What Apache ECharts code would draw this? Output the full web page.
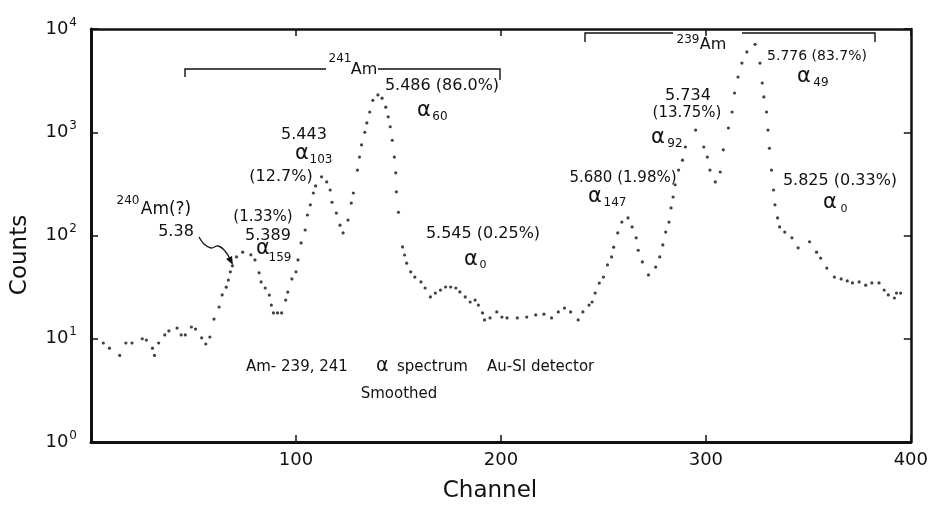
<!DOCTYPE html>
<html><head><meta charset="utf-8">
<script src="https://cdn.jsdelivr.net/npm/echarts@6/dist/echarts.min.js"></script>
<style>html,body{margin:0;padding:0;background:#fff}#c{width:931px;height:505px}</style>
</head><body><div id="c"></div>
<script>
// Channel numbers and smoothed counts
const channels = [6,9,14,17,20,25,27,30,31,33,36,38,42,44,46,49,51,54,56,58,60,62.5,64,66,67,68,69,71,74,78,80,82,83,85,87,88,89,91,93,95,96,98,100,101,102.5,104.5,105.6,107,108.5,109.6,112.5,115,116.7,117.6,119.7,121.5,123,125.4,127,128,130,131,132,133.6,134.6,136,137.5,140,142,143.8,145,146,147,148,148.7,149,150,152,153,154,156,158,161,163,165.6,168,170.5,173,175.5,178,180,182.6,185,187.4,189,191,192,194.7,198,200.5,203,208,212.6,217,221,224.7,228,231,234,237.7,240,243,244.5,246,248,250,252,254,255,257,259,262,264,266,267,269,272,275.5,277.5,279,280.4,282,283,284,285,286.7,288.6,290,295,299,300.7,302,304.6,307,308.5,311,312.8,314,315.7,317.6,320,324,326.4,327.5,328.3,329.6,330.3,331,332,333,333.7,335,336,338.5,342,345,350.6,354,356,359,362.7,366,369,371.5,374.8,378,381,384.5,387,389,392,393,395];
const counts = [9.1,8.1,6.9,9.1,9.1,10,9.7,8.1,6.9,9.1,10.9,11.9,12.7,10.9,10.9,13,12.4,10.2,8.9,10.4,15.5,20.3,26.6,31.6,37,44.5,50.9,62,69,65,58,43.5,35.5,31,26.5,21.2,17.8,17.8,17.8,23.7,28.3,38,44.5,58,84.7,113,158,198,258,302,370,330,276,210,165,126,106,141,206,258,430,575,755,1000,1230,1570,2040,2300,2140,1750,1410,1130,837,575,405,265,168,77.5,64.7,54,44.5,39.6,35.5,31,25.4,27.7,29.6,31.7,31.7,31,28.4,25.4,22.7,23.7,21.2,17.8,15.2,15.9,18.2,16.2,15.9,15.9,16.2,17,17.3,15.9,18.2,19.8,18.2,15.2,18.2,21.2,22.7,27.7,34.6,39.6,51.9,62,77,106,135,148,121,95,72,55.5,41.5,49.4,62,81,108,135,185,236,310,430,537,720,1050,720,575,430,330,412,675,1100,1570,2400,3430,4680,6000,7100,4680,3000,2200,1570,1050,700,430,276,198,148,121,108,95,76,87,69,60.5,48.4,39.6,38,36.3,34.7,35.5,33,34.7,34.7,29.6,26.6,24.8,27.7,27.7];
const xTickValues = [0,100,200,300,400];
const yTickValues = [1,10,100,1000,10000];

const FF = "'DejaVu Sans', sans-serif";
const chart = echarts.init(document.getElementById('c'), null, {renderer:'canvas'});

function txt(x, y, text, size, align, rot) {
  return {type:'text', x:x, y:y, rotation: rot || 0, silent:true,
    style:{text:text, font: size + 'px ' + FF, fill:'#111',
      align: align || 'center', textAlign: align || 'center',
      verticalAlign:'middle', textVerticalAlign:'middle'}};
}
function line(points, w) {
  return {type:'polyline', silent:true, shape:{points:points},
    style:{stroke:'#111', lineWidth: w || 1.4, fill:null}};
}

const graphics = [
  // axis titles
  txt(20, 255, 'Counts', 23, 'center', Math.PI/2),
  txt(490, 491, 'Channel', 23),
  // 240Am(?) 5.38
  txt(128, 201, '240', 12),
  txt(166, 210, 'Am(?)', 17),
  txt(176, 232, '5.38', 16),
  {type:'polyline', silent:true, shape:{points:[[199,237],[204,244],[211,248],[218,246],[225,251],[230,259]], smooth:0.4},
    style:{stroke:'#111', lineWidth:1.3, fill:null}},
  {type:'polygon', silent:true, shape:{points:[[233,265],[226,259],[232,256]]}, style:{fill:'#111'}},
  // alpha 159
  txt(263, 217, '(1.33%)', 15),
  txt(268, 236, '5.389', 16),
  txt(263, 249, 'α', 21),
  txt(280, 258, '159', 12),
  // alpha 103
  txt(304, 135, '5.443', 16),
  txt(302, 154, 'α', 21),
  txt(321, 160, '103', 12),
  txt(281, 177, '(12.7%)', 16),
  // 241Am bracket
  line([[185,77],[185,69],[326,69]]),
  line([[378,69],[500,69],[500,80]]),
  txt(340, 59, '241', 12),
  txt(364, 70, 'Am', 16),
  txt(442, 86, '5.486 (86.0%)', 16),
  txt(424, 111, 'α', 21),
  txt(440, 117, '60', 12),
  txt(483, 234, '5.545 (0.25%)', 16),
  txt(471, 260, 'α', 21),
  txt(483, 265, '0', 11),
  // 239Am bracket
  line([[585,42],[585,33],[673,33]]),
  line([[742,33],[875,33],[875,42]]),
  txt(688, 40, '239', 12),
  txt(713, 45, 'Am', 16),
  txt(817, 56, '5.776 (83.7%)', 14),
  txt(804, 77, 'α', 21),
  txt(821, 83, '49', 12),
  txt(688, 96, '5.734', 16),
  txt(687, 113, '(13.75%)', 15),
  txt(658, 138, 'α', 21),
  txt(675, 144, '92', 12),
  txt(623, 178, '5.680 (1.98%)', 15),
  txt(595, 197, 'α', 21),
  txt(615, 203, '147', 12),
  txt(840, 181, '5.825 (0.33%)', 16),
  txt(830, 203, 'α', 21),
  txt(844, 209, '0', 11),
  // caption
  txt(246, 367, 'Am- 239, 241', 15, 'left'),
  txt(376, 366, 'α', 19, 'left'),
  txt(397, 367, 'spectrum', 15, 'left'),
  txt(487, 367, 'Au-SI detector', 15, 'left'),
  txt(399, 394, 'Smoothed', 15)
];

const sup = {
  b:{fontSize:18, fontFamily:FF, color:'#111', lineHeight:18},
  s:{fontSize:12, fontFamily:FF, color:'#111', lineHeight:12, padding:[0,0,13,1]}
};

chart.setOption({
  animation:false,
  backgroundColor:'#fff',
  grid:{left:91, right:14, top:29, bottom:63, show:false},
  xAxis:[
    {type:'value', min:0, max:400, interval:100, position:'bottom',
     axisLine:{show:true, onZero:false, lineStyle:{color:'#111', width:3}},
     axisTick:{show:true, inside:true, length:7, lineStyle:{color:'#111', width:1.5},
       customValues: xTickValues},
     axisLabel:{show:true, fontSize:18, fontFamily:FF, color:'#111', margin:9,
       formatter: v => (v === 0 ? '' : String(v))},
     splitLine:{show:false}},
    {type:'value', min:0, max:400, interval:100, position:'top',
     axisLine:{show:true, onZero:false, lineStyle:{color:'#111', width:2.5}},
     axisTick:{show:true, inside:true, length:7, lineStyle:{color:'#111', width:1.5}},
     axisLabel:{show:false}, splitLine:{show:false}}
  ],
  yAxis:[
    {type:'log', logBase:10, min:1, max:10000, position:'left',
     axisLine:{show:true, onZero:false, lineStyle:{color:'#111', width:3}},
     axisTick:{show:true, inside:true, length:7, lineStyle:{color:'#111', width:1.5}},
     axisLabel:{show:true, margin:14, rich:sup,
       formatter: v => '{b|10}{s|' + Math.round(Math.log10(v)) + '}'},
     splitLine:{show:false}},
    {type:'log', logBase:10, min:1, max:10000, position:'right',
     axisLine:{show:true, onZero:false, lineStyle:{color:'#111', width:2.5}},
     axisTick:{show:true, inside:true, length:7, lineStyle:{color:'#111', width:1.5}},
     axisLabel:{show:false}, splitLine:{show:false}}
  ],
  series:[{
    type:'scatter', xAxisIndex:0, yAxisIndex:0, silent:true,
    symbol:'circle', symbolSize:3.2,
    itemStyle:{color:'#111'},
    data: channels.map((c, i) => [c, counts[i]])
  }],
  graphic: graphics
});
</script>
</body></html>
